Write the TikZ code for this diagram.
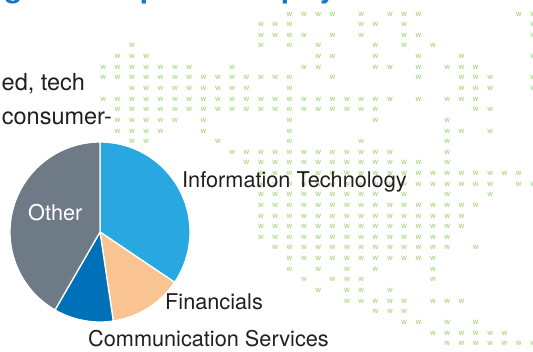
\documentclass[tikz,border=0pt]{standalone}
\usepackage{fontspec}
\setmainfont{TeX Gyre Heros}
\usepackage{tikz}
\definecolor{mapgreen}{RGB}{163,212,124}
\definecolor{headblue}{RGB}{22,120,196}
\definecolor{itblue}{RGB}{41,167,224}
\definecolor{finpeach}{RGB}{250,196,146}
\definecolor{commblue}{RGB}{0,112,185}
\definecolor{othergray}{RGB}{110,122,134}
\definecolor{inkblack}{RGB}{35,31,32}
\tikzset{
  mapw/.style={font=\fontsize{8}{8}\selectfont, text=mapgreen, inner sep=0pt},
  lbl/.style={font=\fontsize{21.7}{26}\selectfont, text=inkblack, anchor=base west, inner sep=0pt},
  bodytext/.style={font=\fontsize{23.5}{28}\selectfont, text=inkblack, anchor=base west, inner sep=0pt},
  headfrag/.style={font=\fontsize{30}{34}\selectfont\bfseries, text=headblue, anchor=base west, inner sep=0pt},
  slice/.style={draw=white, line width=1.3pt, line join=round}
}

\begin{document}
\begin{tikzpicture}[x=1pt,y=1pt]
\clip (0,-351) rectangle (533,0);
\fill[white] (0,-351) rectangle (533,0);
% heading, only the descenders are left in view
\node[headfrag] (head-g) at (4,2.5) {g};
\node[headfrag] (head-p) at (140,2.5) {p};
\node[headfrag] (head-pp) at (281,2.5) {p};
\node[headfrag] (head-y) at (319,2.5) {y};
% world map of w's, row/columns
\foreach \r/\cols in {
  0/{13,...,16,18,20,21,22,29,30},
  1/{11,12,13,18,19,21,30},
  2/{11,...,14,16,18,21,22,30},
  3/{2,11,13,...,16,19,21,...,24},
  4/{1,2,3,15,16,19,22,...,25,30},
  5/{0,...,6,9,...,12,14,15,19,20,22,24,25,26},
  6/{0,...,13,16,...,20,22,25,26,27,30},
  7/{2,...,10,13,...,21,25,26,27,30},
  8/{0,...,20,22,24,25,26},
  9/{1,...,19,26,27},
  10/{1,...,5,7,...,19,24},
  11/{1,...,4,7,...,18,24,25,27},
  12/{2,3,8,...,19,24,...,27},
  13/{9,...,20,24,...,28},
  14/{10,...,22,24,...,29},
  15/{11,...,29},
  16/{11,...,27,29,30},
  17/{11,...,19,21,24,...,27},
  18/{11,...,26},
  19/{11,...,25},
  20/{11,...,25},
  21/{11,...,24},
  22/{12,...,24,26},
  23/{13,...,23},
  24/{13,15,...,19,23},
  25/{14,16,17,18,23},
  26/{15,17,18,20},
  27/{17,...,21,23,24,25},
  28/{19,20,21},
  29/{21,22,24,...,27},
  30/{23,...,28},
  31/{24,...,30}}
  \foreach \c in \cols
    \node[mapw] (w-\r-\c) at ({103.3+14.33*\c},{-14-10.63*\r}) {w};
% pie
\coordinate (ctr) at (100,-232);
\filldraw[slice, fill=itblue] (ctr) -- ++(90:90) arc[start angle=90, end angle=-34, radius=90] -- cycle;
\filldraw[slice, fill=finpeach] (ctr) -- ++(-34:90) arc[start angle=-34, end angle=-81.5, radius=90] -- cycle;
\filldraw[slice, fill=commblue] (ctr) -- ++(-81.5:90) arc[start angle=-81.5, end angle=-120, radius=90] -- cycle;
\filldraw[slice, fill=othergray] (ctr) -- ++(-120:90) arc[start angle=-120, end angle=-270, radius=90] -- cycle;
% labels
\node[lbl, text=white] (other) at (28,-220) {Other};
\node[lbl] (infotech) at (182,-187) {Information Technology};
\node[lbl] (financials) at (165,-309) {Financials};
\node[lbl] (commserv) at (88,-346) {Communication Services};
% running text on the left
\node[bodytext] (edtech) at (1.5,-90.7) {ed, tech};
\node[bodytext] (consumer) at (1.7,-124) {consumer-};
\end{tikzpicture}
\end{document}
